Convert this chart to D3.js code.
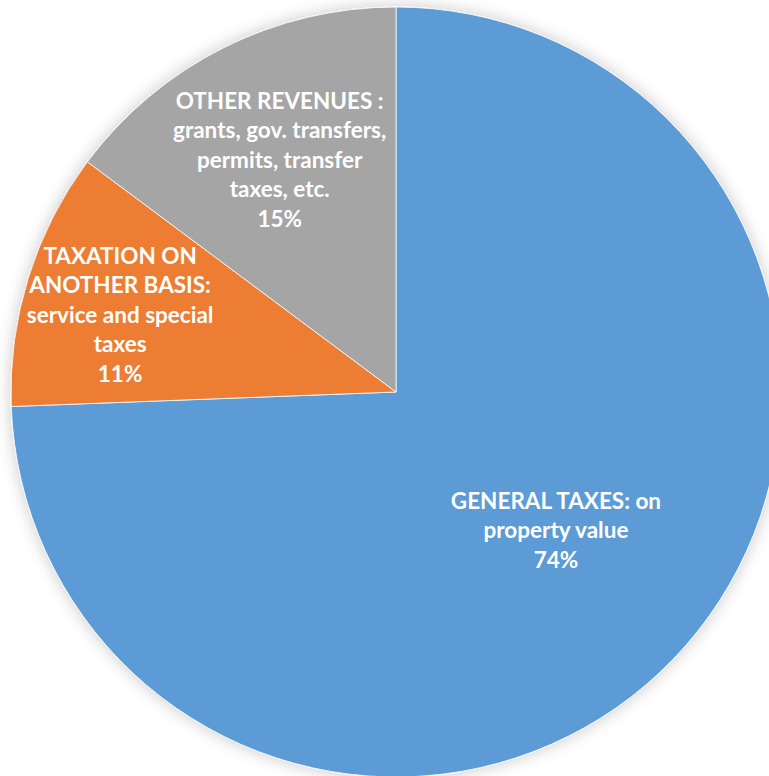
<!DOCTYPE html>
<html>
  <head>
    <style>
      body { margin: 0; padding: 0; overflow: hidden; background: #fff; }
      svg { display: block; }
    </style>
    <script src="https://cdn.jsdelivr.net/npm/d3@7/dist/d3.min.js"></script>
  </head>
  <body>
    <svg></svg>
    <script>
      // Datos
      const categories = ['GENERAL TAXES', 'TAXATION ON ANOTHER BASIS', 'OTHER REVENUES'];
      const shares = [74.4, 10.8, 14.8];
      const labelLines = [
        ['GENERAL TAXES: on', 'property value'],
        ['TAXATION ON', 'ANOTHER BASIS:', 'service and special', 'taxes'],
        ['OTHER REVENUES :', 'grants, gov. transfers,', 'permits, transfer', 'taxes, etc.']
      ];
      const colors = ['#5B9BD5', '#ED7D31', '#A5A5A5'];

      const width = 769, height = 776;
      const cx = 396, cy = 392, radius = 385;
      // Posición de etiquetas: fracción del radio y giro (grados) respecto al ángulo medio
      const labelRadius = [0.549, 0.744, 0.674];
      const labelShift = [-3.1, -1.7, 0];
      const lineHeight = 29.5;

      const svg = d3.select('svg')
        .attr('width', width)
        .attr('height', height);

      // Sombra suave
      const defs = svg.append('defs');
      const filter = defs.append('filter')
        .attr('id', 'shadow')
        .attr('x', '-10%').attr('y', '-10%')
        .attr('width', '120%').attr('height', '120%');
      filter.append('feDropShadow')
        .attr('dx', 0).attr('dy', 0)
        .attr('stdDeviation', 8)
        .attr('flood-color', '#000')
        .attr('flood-opacity', 0.22);

      const pie = d3.pie().sort(null).value(d => d)(shares);
      const arc = d3.arc().innerRadius(0).outerRadius(radius);

      const g = svg.append('g')
        .attr('transform', `translate(${cx}, ${cy})`);

      g.append('g')
        .attr('filter', 'url(#shadow)')
        .selectAll('path')
        .data(pie)
        .enter()
        .append('path')
        .attr('d', arc)
        .attr('fill', (d, i) => colors[i])
        .attr('stroke', '#fff')
        .attr('stroke-width', 0.8);

      // Etiquetas
      const labels = g.selectAll('text.label')
        .data(pie)
        .enter()
        .append('text')
        .attr('class', 'label')
        .attr('transform', (d, i) => {
          const a = (d.startAngle + d.endAngle) / 2 + labelShift[i] * Math.PI / 180;
          const p = d3.pointRadial(a, radius * labelRadius[i]);
          return `translate(${p[0]}, ${p[1]})`;
        })
        .attr('text-anchor', 'middle')
        .attr('fill', '#fff')
        .attr('font-family', 'Lato, "Open Sans", sans-serif')
        .attr('font-weight', 'bold')
        .attr('font-size', 22.5);

      labels.each(function (d, i) {
        const lines = labelLines[i].concat([Math.round(shares[i]) + '%']);
        const t = d3.select(this);
        const y0 = -(lines.length - 1) / 2 * lineHeight;
        lines.forEach((line, k) => {
          t.append('tspan')
            .attr('x', 0)
            .attr('y', y0 + k * lineHeight)
            .attr('dy', '0.35em')
            .text(line);
        });
      });
    </script>
  </body>
</html>
